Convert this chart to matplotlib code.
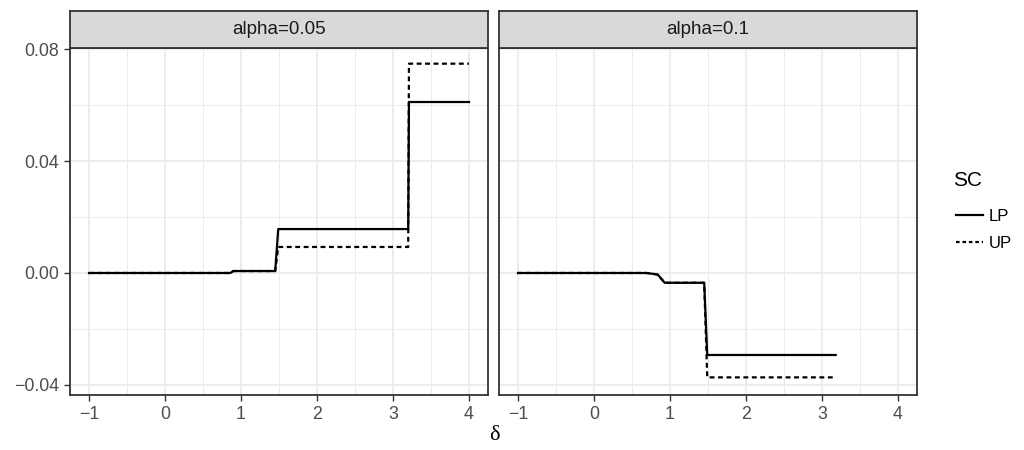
import numpy as np
import matplotlib.pyplot as plt
from matplotlib.lines import Line2D
from matplotlib.ticker import MultipleLocator

plt.rcParams['font.family'] = ['Liberation Sans', 'DejaVu Sans']

# step curves (delta, value)
left_lp_x = [-1.0, 0.86, 0.90, 1.45, 1.49, 3.20, 3.21, 4.0]
left_lp_y = [0.0, 0.0, 0.0007, 0.0007, 0.0157, 0.0157, 0.0611, 0.0611]
left_up_x = [-1.0, 0.86, 0.90, 1.45, 1.49, 3.20, 3.21, 4.0]
left_up_y = [0.0, 0.0, 0.0007, 0.0007, 0.0093, 0.0093, 0.0748, 0.0748]

right_lp_x = [-1.0, 0.69, 0.80, 0.84, 0.93, 1.45, 1.49, 3.18]
right_lp_y = [0.0, 0.0, -0.0004, -0.0006, -0.0035, -0.0035, -0.0293, -0.0293]
right_up_x = [-1.0, 0.69, 0.80, 0.84, 0.93, 1.45, 1.49, 3.18]
right_up_y = [0.0, 0.0, -0.0004, -0.0006, -0.0035, -0.0035, -0.0373, -0.0373]

panels = ['alpha=0.05', 'alpha=0.1']
series = [
    ((left_lp_x, left_lp_y), (left_up_x, left_up_y)),
    ((right_lp_x, right_lp_y), (right_up_x, right_up_y)),
]

fig = plt.figure(figsize=(10.24, 4.5), dpi=100)

lefts = [70 / 1024, 499 / 1024]
w = 418 / 1024
bottom = 1 - 395 / 450
h = 347 / 450
strip_h = 37 / 450
dash = (0, (2.2, 1.6))

for i, (name, (lp, up)) in enumerate(zip(panels, series)):
    ax = fig.add_axes([lefts[i], bottom, w, h])
    ax.plot(lp[0], lp[1], color='black', lw=1.6, label='LP')
    ax.plot(up[0], up[1], color='black', lw=1.6, ls=dash, label='UP')
    ax.set_xlim(-1.25, 4.25)
    ax.set_ylim(-0.0436, 0.0804)
    ax.xaxis.set_major_locator(MultipleLocator(1))
    ax.xaxis.set_minor_locator(MultipleLocator(0.5))
    ax.set_yticks([-0.04, 0.0, 0.04, 0.08])
    ax.yaxis.set_minor_locator(MultipleLocator(0.02))
    ax.grid(which='major', color='#EBEBEB', lw=1.3)
    ax.grid(which='minor', color='#EBEBEB', lw=0.7)
    ax.set_axisbelow(True)
    ax.tick_params(which='minor', length=0)
    ax.tick_params(which='major', length=4, width=1, color='#333333',
                   labelsize=12.8, labelcolor='#4D4D4D', pad=4)
    for s in ax.spines.values():
        s.set_color('#333333')
        s.set_linewidth(1.3)
    if i == 0:
        ax.set_yticklabels(['\u22120.04', '0.00', '0.04', '0.08'])
    else:
        ax.tick_params(axis='y', which='both', left=False, labelleft=False)
    ax.set_xticks([-1, 0, 1, 2, 3, 4])
    ax.set_xticklabels(['\u22121', '0', '1', '2', '3', '4'])

    sax = fig.add_axes([lefts[i], bottom + h, w, strip_h])
    sax.set_facecolor('#D9D9D9')
    sax.set_xticks([])
    sax.set_yticks([])
    for s in sax.spines.values():
        s.set_color('#333333')
        s.set_linewidth(1.3)
    sax.text(0.5, 0.5, name, ha='center', va='center', fontsize=13.6,
             color='#1A1A1A', transform=sax.transAxes)

fig.text(494 / 1024, 1 - 436 / 450, '\u03b4', ha='center', va='center',
         fontsize=16, family='Liberation Serif')

# legend
fig.text(953 / 1024, 1 - 181 / 450, 'SC', ha='left', va='center', fontsize=15)
handles = [Line2D([], [], color='black', lw=1.6),
           Line2D([], [], color='black', lw=1.6, ls=(0, (1.6, 1.3)))]
leg = fig.legend(handles, ['LP', 'UP'], loc='upper left',
                 bbox_to_anchor=(956 / 1024, 1 - 209 / 450), frameon=False,
                 fontsize=12, handlelength=1.6, handletextpad=0.35,
                 labelspacing=0.72, borderpad=0, borderaxespad=0)

fig.savefig('out.png', dpi=100)
